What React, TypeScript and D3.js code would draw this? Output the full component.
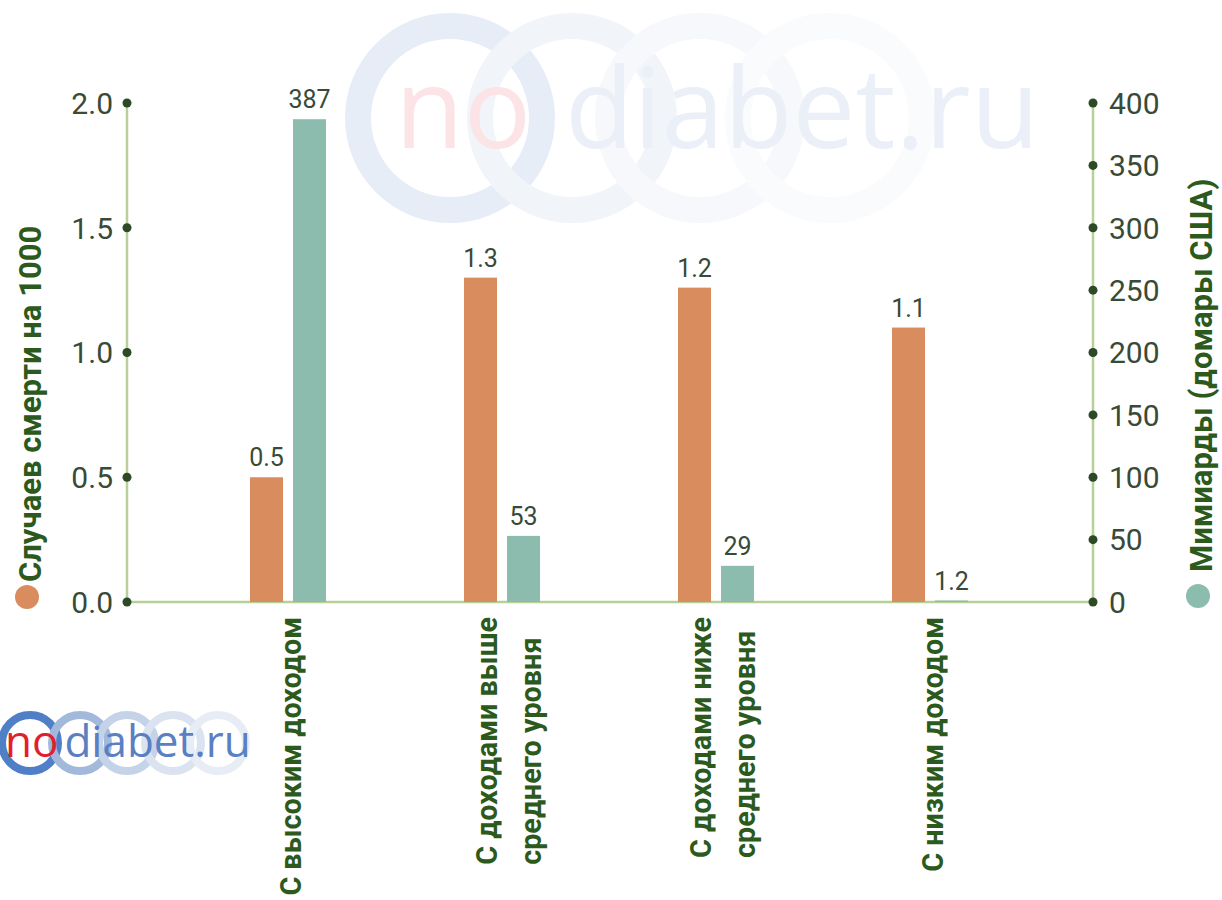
import { useLayoutEffect, useRef, useState } from "react";
import { scaleLinear, scalePoint } from "d3";

const width = 1222;
const height = 900;

// data
const categoryLines = [
  ["С высоким доходом"],
  ["С доходами выше", "среднего уровня"],
  ["С доходами ниже", "среднего уровня"],
  ["С низким доходом"],
];
const deaths = [0.5, 1.3, 1.26, 1.1];
const deathLabels = ["0.5", "1.3", "1.2", "1.1"];
const costs = [387, 53, 29, 1.2];
const costLabels = ["387", "53", "29", "1.2"];
const leftTicks = [0, 0.5, 1.0, 1.5, 2.0];
const rightTicks = [0, 50, 100, 150, 200, 250, 300, 350, 400];
const leftTitle = "Случаев смерти на 1000";
const rightTitle = "Мимиарды (домары США)";

const ORANGE = "#d98d5e";
const TEAL = "#8cbcae";
const AXIS = "#b9cf98";
const DOT = "#2d4a27";
const TICK_TEXT = "#394a36";
const LABEL = "#2c5a1c";
const FONT = "Roboto, sans-serif";
const SQUEEZE = 0.96; // condensed look for the bold labels

const AX_L = 127;
const AX_R = 1093;
const Y0 = 602;
const Y1 = 103;
const BAR_W = 33;

export default function App() {
  const x = scalePoint<number>().domain(categoryLines.map((_, i) => i)).range([288, 930]);
  const yL = scaleLinear().domain([0, 2]).range([Y0, Y1]);
  const yR = scaleLinear().domain([0, 400]).range([Y0, Y1]);

  const refs = useRef<(SVGTextElement | null)[][]>(categoryLines.map(() => []));
  const [lens, setLens] = useState<number[]>(categoryLines.map(() => 260));
  useLayoutEffect(() => {
    setLens(
      categoryLines.map((lines, i) =>
        Math.max(...lines.map((_, j) => refs.current[i][j]?.getComputedTextLength() ?? 0))
      )
    );
  }, []);

  const bigRings = [
    { cx: 450, c: "#e7edf6" },
    { cx: 572, c: "#f1f4f9" },
    { cx: 700, c: "#f6f8fb" },
    { cx: 830, c: "#fafbfd" },
  ];
  const smallRings = [
    { cx: 30, c: "#4f7fc6" },
    { cx: 80, c: "#a3b9dc" },
    { cx: 127, c: "#c5d3e8" },
    { cx: 173, c: "#dbe3f0" },
    { cx: 218, c: "#e8edf5" },
  ];

  return (
    <svg
      width={width}
      height={height}
      viewBox={`0 0 ${width} ${height}`}
      style={{ position: "absolute", left: 0, top: 0, background: "#fff" }}
    >
      <rect width={width} height={height} fill="#fff" />

      {/* watermark */}
      <g>
        {bigRings.map((r, i) => (
          <circle key={i} cx={r.cx} cy={118} r={92} fill="none" stroke={r.c} strokeWidth={26} />
        ))}
        <text x={395} y={148} fontFamily="'Open Sans', sans-serif" fontSize={112} fill="#fce3e6">
          no<tspan fill="#ebeff7" dx={34}>diabet.ru</tspan>
        </text>
      </g>

      {/* small logo */}
      <g>
        {smallRings.map((r, i) => (
          <circle key={i} cx={r.cx} cy={743} r={28} fill="none" stroke={r.c} strokeWidth={8} />
        ))}
        <text x={5} y={757} fontFamily="'Open Sans', sans-serif" fontSize={44} fill="#e0202c">
          no<tspan fill="#5a7fc2" dx={6}>diabet.ru</tspan>
        </text>
      </g>

      {/* axes */}
      <line x1={AX_L} x2={AX_R} y1={Y0} y2={Y0} stroke={AXIS} strokeWidth={2.5} />
      <line x1={AX_L} x2={AX_L} y1={yL(2)} y2={Y0} stroke={AXIS} strokeWidth={2.5} />
      <line x1={AX_R} x2={AX_R} y1={yR(400)} y2={Y0} stroke={AXIS} strokeWidth={2.5} />

      {leftTicks.map((t) => (
        <g key={"l" + t}>
          <circle cx={AX_L} cy={yL(t)} r={4.5} fill={DOT} />
          <text x={AX_L - 14} y={yL(t)} dy="0.36em" textAnchor="end" fontFamily={FONT} fontSize={30} fill={TICK_TEXT}>
            {t.toFixed(1)}
          </text>
        </g>
      ))}
      {rightTicks.map((t) => (
        <g key={"r" + t}>
          <circle cx={AX_R} cy={yR(t)} r={4.5} fill={DOT} />
          <text x={AX_R + 16} y={yR(t)} dy="0.36em" textAnchor="start" fontFamily={FONT} fontSize={30} fill={TICK_TEXT}>
            {t}
          </text>
        </g>
      ))}

      {/* bars */}
      {categoryLines.map((_, i) => {
        const cx = x(i) as number;
        return (
          <g key={"b" + i}>
            <rect x={cx - 38} y={yL(deaths[i])} width={BAR_W} height={Y0 - yL(deaths[i])} fill={ORANGE} />
            <rect x={cx + 5} y={yR(costs[i])} width={BAR_W} height={Y0 - yR(costs[i])} fill={TEAL} />
            <text x={cx - 38 + BAR_W / 2} y={yL(deaths[i]) - 11} textAnchor="middle" fontFamily={FONT} fontSize={25} fill={TICK_TEXT}>
              {deathLabels[i]}
            </text>
            <text x={cx + 5 + BAR_W / 2} y={yR(costs[i]) - 11} textAnchor="middle" fontFamily={FONT} fontSize={25} fill={TICK_TEXT}>
              {costLabels[i]}
            </text>
          </g>
        );
      })}

      {/* category labels, rotated */}
      {categoryLines.map((lines, i) => {
        const cx = x(i) as number;
        const bottom = 617 + lens[i] * SQUEEZE;
        return lines.map((ln, j) => {
          const bx = lines.length === 1 ? cx + 13 : cx - 5 + j * 44;
          return (
            <text
              key={"c" + i + j}
              ref={(el) => {
                refs.current[i][j] = el;
              }}
              transform={`translate(${bx},${bottom}) rotate(-90) scale(${SQUEEZE},1)`}
              textAnchor="start"
              fontFamily={FONT}
              fontWeight="bold"
              fontSize={30}
              fill={LABEL}
            >
              {ln}
            </text>
          );
        });
      })}

      {/* axis titles with legend dots */}
      <circle cx={27} cy={597} r={12} fill={ORANGE} />
      <text transform={`translate(41,582) rotate(-90)`} textAnchor="start" fontFamily={FONT} fontWeight="bold" fontSize={31} fill={LABEL}>
        {leftTitle}
      </text>
      <circle cx={1198} cy={596} r={12} fill={TEAL} />
      <text transform={`translate(1212,572) rotate(-90)`} textAnchor="start" fontFamily={FONT} fontWeight="bold" fontSize={31} fill={LABEL}>
        {rightTitle}
      </text>
    </svg>
  );
}
